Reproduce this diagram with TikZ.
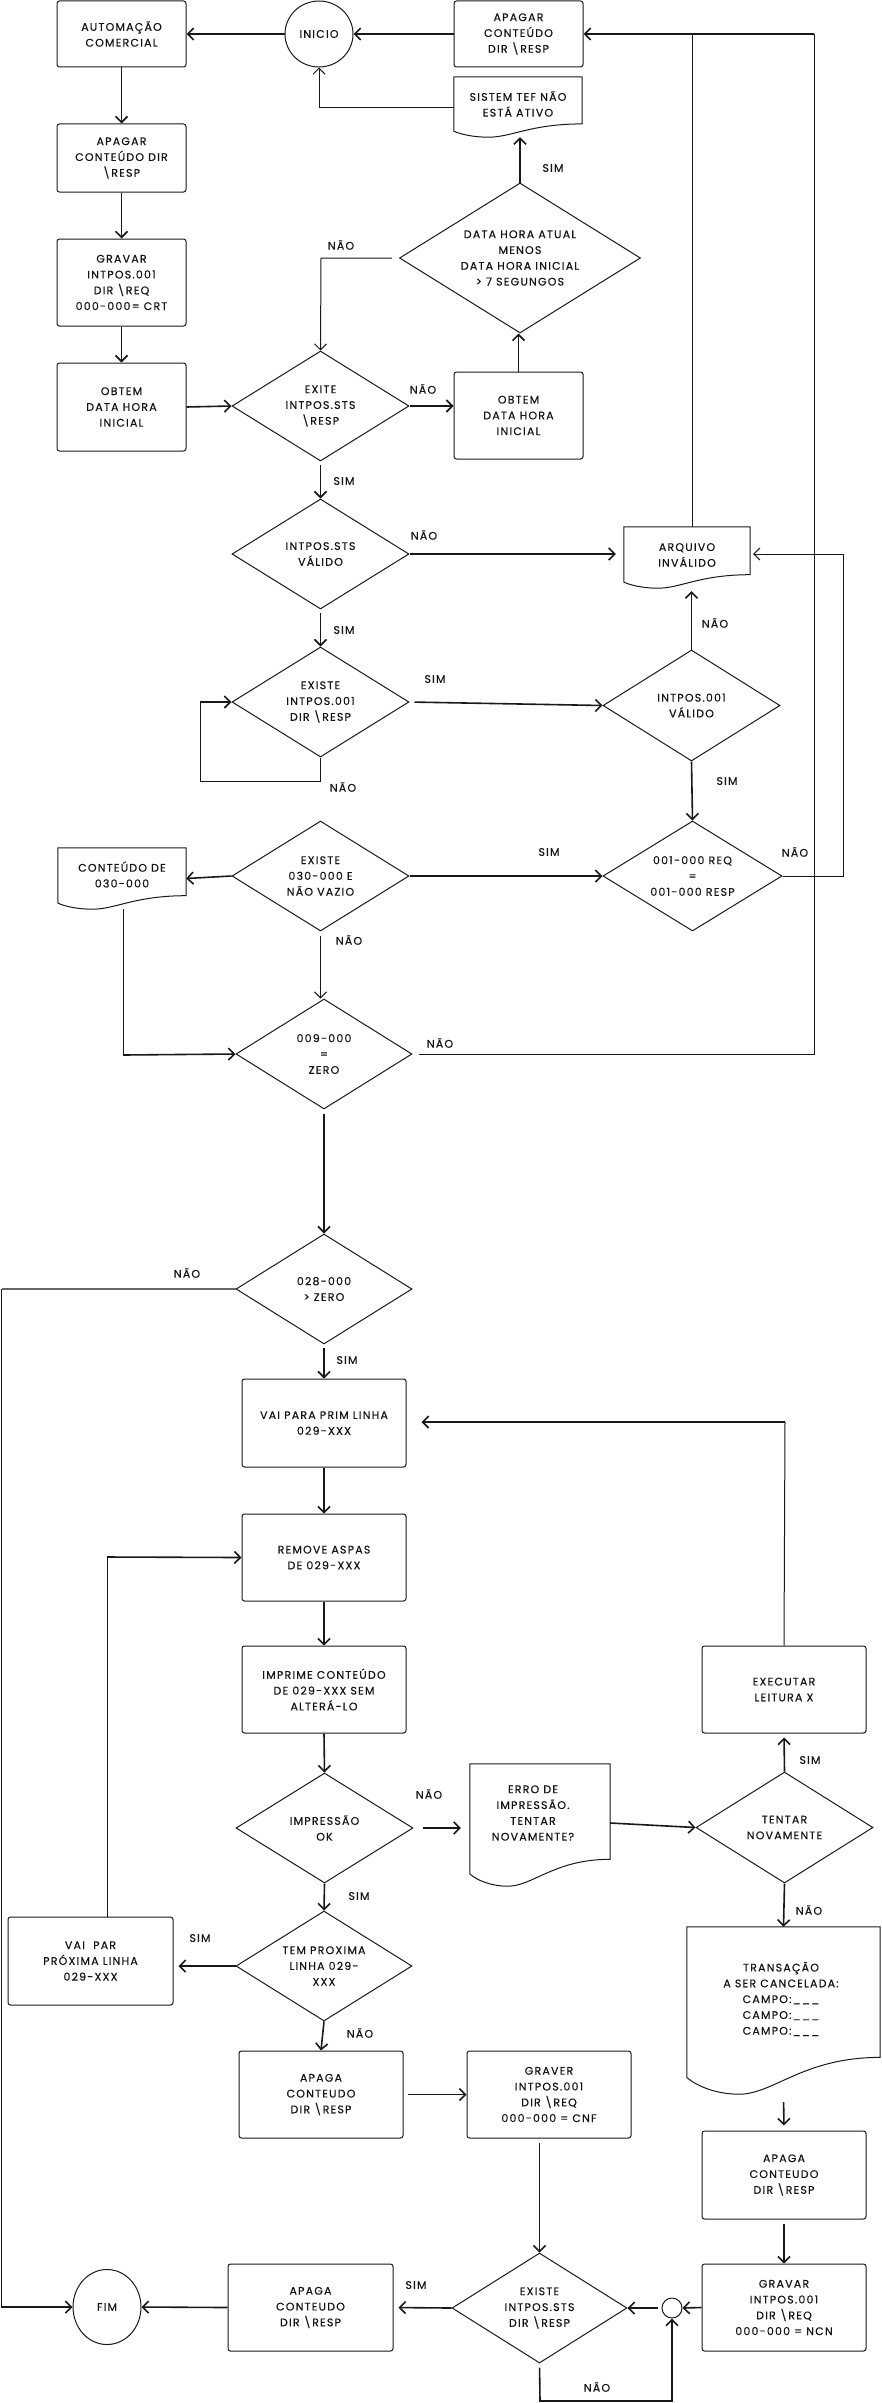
\documentclass[tikz,border=0pt]{standalone}
\usepackage{fontspec}
\setmainfont{Poppins}[LetterSpace=11, FakeBold=0.4]
\usetikzlibrary{shapes.geometric,arrows.meta,calc}
\newcommand\dfont{\fontsize{11pt}{15.8pt}\selectfont}
\tikzset{
  shp/.style={draw=black!90, line width=1pt},
  box/.style={shp, rounded corners=2.5pt, inner sep=0pt, align=center},
  dia/.style={shp, diamond, aspect=1.6, inner sep=0pt, align=center},
  term/.style={shp, ellipse, inner sep=0pt, align=center},
  docn/.style={inner sep=0pt},
  txt/.style={inner sep=0pt, align=center},
  lbl/.style={inner sep=0pt},
  arr/.style={line width=1.6pt, draw=black!90, -{Straight Barb[length=6pt,width=12pt]}},
  arrt/.style={line width=1pt, draw=black!90, -{Straight Barb[length=6pt,width=12pt]}},
  ln/.style={line width=1pt, draw=black!90},
  lnk/.style={line width=1.6pt, draw=black!90},
}
\newcommand\docdraw[1]{%
  \draw[shp] let \p1=(#1.north west), \p2=(#1.south east), \n1={\x2-\x1}, \n2={\y1-\y2} in
    (\x1,\y1) -- (\x2,\y1) -- (\x2,{\y1-0.78*\n2})
    .. controls ({\x1+0.6*\n1},{\y1-0.78*\n2}) and ({\x1+0.45*\n1},\y2) .. ({\x1+0.27*\n1},\y2)
    .. controls ({\x1+0.15*\n1},\y2) and ({\x1+0.05*\n1},{\y1-0.95*\n2}) .. (\x1,{\y1-0.9*\n2}) -- cycle;}
\begin{document}
\begin{tikzpicture}[x=1pt,y=-1pt,font=\dfont,text=black!92]
\useasboundingbox (0,0) rectangle (882,2403);

% ---------- nodes ----------
\node[term, minimum width=68pt, minimum height=66pt] (inicio) at (319,34) {INICIO};
\node[box, minimum width=129pt, minimum height=66pt] (automacao) at (121.5,34) {AUTOMAÇÃO\\COMERCIAL};
\node[box, minimum width=129pt, minimum height=66pt] (apagarTop) at (518.5,34) {APAGAR\\CONTEÚDO\\DIR \textbackslash RESP};
\node[docn, minimum width=128pt, minimum height=60pt] (sistem) at (518,107) {};
\docdraw{sistem}
\node[txt] (sistemT) at (518,104) {SISTEM TEF NÃO\\ESTÁ ATIVO};
\node[dia, minimum width=241pt, minimum height=150pt] (datahora) at (520,258) {DATA HORA ATUAL\\MENOS\\DATA HORA INICIAL\\> 7 SEGUNGOS};
\node[box, minimum width=129pt, minimum height=68pt] (apagarLeft) at (121.5,158) {APAGAR\\CONTEÚDO DIR\\\textbackslash RESP};
\node[box, minimum width=129pt, minimum height=87pt] (gravar) at (121.5,282.5) {GRAVAR\\INTPOS.001\\DIR \textbackslash REQ\\000-000= CRT};
\node[box, minimum width=129pt, minimum height=88pt] (obtemL) at (121.5,407) {OBTEM\\DATA HORA\\INICIAL};
\node[dia, minimum width=177pt, minimum height=110pt] (exite) at (320.5,406) {EXITE\\INTPOS.STS\\\textbackslash RESP};
\node[box, minimum width=129pt, minimum height=87pt] (obtemR) at (518.5,415.5) {OBTEM\\DATA HORA\\INICIAL};
\node[dia, minimum width=177pt, minimum height=110pt] (stsval) at (320.5,554) {INTPOS.STS\\VÁLIDO};
\node[docn, minimum width=126pt, minimum height=61pt] (arquivo) at (687,557.5) {};
\docdraw{arquivo}
\node[txt] (arquivoT) at (687,555) {ARQUIVO\\INVÁLIDO};
\node[dia, minimum width=177pt, minimum height=110pt] (existe001) at (320.5,702) {EXISTE\\INTPOS.001\\DIR \textbackslash RESP};
\node[dia, minimum width=177pt, minimum height=111pt] (val001) at (691.5,705.5) {INTPOS.001\\VÁLIDO};
\node[dia, minimum width=179pt, minimum height=110pt] (req) at (692.5,876) {001-000 REQ\\=\\001-000 RESP};
\node[dia, minimum width=177pt, minimum height=110pt] (ex030) at (320.5,876) {EXISTE\\030-000 E\\NÃO VAZIO};
\node[docn, minimum width=128pt, minimum height=61pt] (conteudo) at (122,878.5) {};
\docdraw{conteudo}
\node[txt] (conteudoT) at (122,874.5) {CONTEÚDO DE\\030-000};
\node[dia, minimum width=176pt, minimum height=110pt] (z009) at (324,1054) {009-000\\=\\ZERO};
\node[dia, minimum width=176pt, minimum height=110pt] (z028) at (324,1289) {028-000\\> ZERO};
\node[box, minimum width=164pt, minimum height=88pt] (vaiprim) at (324,1423) {VAI PARA PRIM LINHA\\029-XXX};
\node[box, minimum width=164pt, minimum height=87pt] (remove) at (324,1557.5) {REMOVE ASPAS\\DE 029-XXX};
\node[box, minimum width=164pt, minimum height=87pt] (imprime) at (324,1689.5) {IMPRIME CONTEÚDO\\DE 029-XXX SEM\\ALTERÁ-LO};
\node[dia, minimum width=177pt, minimum height=110pt] (impr) at (324.5,1828) {IMPRESSÃO\\OK};
\node[docn, minimum width=140pt, minimum height=122pt] (erro) at (540,1825) {};
\docdraw{erro}
\node[txt] (erroT) at (533,1813) {ERRO DE\\IMPRESSÃO.\\TENTAR\\NOVAMENTE?};
\node[dia, minimum width=177pt, minimum height=111pt] (tentar) at (784.5,1827.5) {TENTAR\\NOVAMENTE};
\node[box, minimum width=164pt, minimum height=87pt] (exec) at (784,1689.5) {EXECUTAR\\LEITURA X};
\node[dia, minimum width=176pt, minimum height=110pt] (temprox) at (324,1966) {TEM PROXIMA\\LINHA 029-\\XXX};
\node[box, minimum width=165pt, minimum height=88pt] (vaipar) at (90.5,1961) {VAI\ \ PAR\\PRÓXIMA LINHA\\029-XXX};
\node[docn, minimum width=193pt, minimum height=167pt] (transacao) at (783.5,2010.5) {};
\docdraw{transacao}
\node[txt] (transacaoT) at (781,1999) {TRANSAÇÃO\\A SER CANCELADA:\\CAMPO:\_\_\_\\CAMPO:\_\_\_\\CAMPO:\_\_\_};
\node[box, minimum width=164pt, minimum height=87pt] (apagaMid) at (321,2094.5) {APAGA\\CONTEUDO\\DIR \textbackslash RESP};
\node[box, minimum width=164pt, minimum height=87pt] (graver) at (549,2094.5) {GRAVER\\INTPOS.001\\DIR \textbackslash REQ\\000-000 = CNF};
\node[box, minimum width=164pt, minimum height=88pt] (apagaR) at (784,2175) {APAGA\\CONTEUDO\\DIR \textbackslash RESP};
\node[box, minimum width=164pt, minimum height=87pt] (gravarN) at (784,2307.5) {GRAVAR\\INTPOS.001\\DIR \textbackslash REQ\\000-000 = NCN};
\node[dia, minimum width=175pt, minimum height=110pt] (exsts) at (539.5,2308) {EXISTE\\INTPOS.STS\\DIR \textbackslash RESP};
\node[shp, circle, minimum size=20pt, inner sep=0pt] (conn) at (672,2308) {};
\node[box, minimum width=165pt, minimum height=87pt] (apagaB) at (310.5,2307.5) {APAGA\\CONTEUDO\\DIR \textbackslash RESP};
\node[term, minimum width=68pt, minimum height=75pt] (fim) at (107,2307) {FIM};

% ---------- labels ----------
\node[lbl] (l1) at (553,168) {SIM};
\node[lbl] (l2) at (341,245) {NÃO};
\node[lbl] (l3) at (423,389) {NÃO};
\node[lbl] (l4) at (344,481) {SIM};
\node[lbl] (l5) at (424,535) {NÃO};
\node[lbl] (l6) at (344,630) {SIM};
\node[lbl] (l7) at (435,679) {SIM};
\node[lbl] (l8) at (343,787) {NÃO};
\node[lbl] (l9) at (715,623) {NÃO};
\node[lbl] (l10) at (727,781) {SIM};
\node[lbl] (l11) at (549,852) {SIM};
\node[lbl] (l12) at (795,852) {NÃO};
\node[lbl] (l13) at (349,940) {NÃO};
\node[lbl] (l14) at (440,1043) {NÃO};
\node[lbl] (l15) at (187,1273) {NÃO};
\node[lbl] (l16) at (347,1360) {SIM};
\node[lbl] (l17) at (429,1794) {NÃO};
\node[lbl] (l18) at (810,1760) {SIM};
\node[lbl] (l19) at (359,1896) {SIM};
\node[lbl] (l20) at (200,1938) {SIM};
\node[lbl] (l21) at (809,1910) {NÃO};
\node[lbl] (l22) at (360,2033) {NÃO};
\node[lbl] (l23) at (416,2285) {SIM};
\node[lbl] (l24) at (597,2387) {NÃO};

% ---------- coordinates ----------
\coordinate (tr) at (814,34);
\coordinate (tm) at (692,34);
\coordinate (loopA) at (320.5,781);
\coordinate (loopB) at (200,781);
\coordinate (loopC) at (200,702);
\coordinate (rr) at (843,876);
\coordinate (rt) at (843,554);
\coordinate (dl) at (321,258);
\coordinate (sl) at (319,108);
\coordinate (cb) at (123,1055);
\coordinate (zr) at (814,1054);
\coordinate (lf1) at (1.5,1289);
\coordinate (lf2) at (1.5,2307);
\coordinate (ex1) at (785,1422);
\coordinate (vp1) at (107,1557);
\coordinate (bt1) at (540,2401);
\coordinate (bt2) at (672,2401);

% ---------- connectors ----------
\draw[arr] (inicio.west) -- (automacao.east);
\draw[arr] (apagarTop.west) -- (inicio.east);
\draw[arr] (tr) -- (apagarTop.east);
\draw[ln] (tm |- arquivo.north) -- (tm);
\draw[arr] (automacao.south) -- (apagarLeft.north);
\draw[arr] (apagarLeft.south) -- (gravar.north);
\draw[arr] (gravar.south) -- (obtemL.north);
\draw[arr] (obtemL.east) -- (exite.west);
\draw[arr] (exite.east) -- (exite.east -| obtemR.west);
\draw[arr] (obtemR.north) -- (obtemR.north |- datahora.south);
\draw[arr] (datahora.north) -- (datahora.north |- sistem.south);
\draw[arrt] (sistem.west |- sl) -- (sl) -- (inicio.south);
\draw[arrt, shorten <=7pt] (datahora.west) -- (dl) -- (exite.north);
\draw[arr, shorten <=3pt] (exite.south) -- (stsval.north);
\draw[arr, shorten >=8pt] (stsval.east) -- (stsval.east -| arquivo.west);
\draw[arr, shorten <=3pt] (stsval.south) -- (existe001.north);
\draw[ln] (existe001.south) -- (loopA) -- (loopB) -- (loopC);
\draw[arr] (loopC) -- (existe001.west);
\draw[arr, shorten <=5pt] (existe001.east) -- (val001.west);
\draw[arr, shorten >=3pt] (val001.north) -- (val001.north |- arquivo.south);
\draw[arr] (val001.south) -- (req.north);
\draw[arrt, shorten >=3pt] (req.east) -- (rr) -- (rt) -- (rt -| arquivo.east);
\draw[arr] (ex030.east) -- (req.west);
\draw[arr] (ex030.west) -- (conteudo.east);
\draw[arrt, shorten <=4pt] (ex030.south) -- (ex030.south |- z009.north);
\draw[ln] (conteudo.south -| cb) -- (cb);
\draw[arr] (cb) -- (z009.west);
\draw[ln, shorten <=6pt] (z009.east) -- (zr) -- (tr);
\draw[arr, shorten <=4pt] (z009.south) -- (z028.north);
\draw[lnk, draw=black!60] (z028.west) -- (lf1);
\draw[arr] (lf1) -- (lf2) -- (fim.west);
\draw[arr, shorten <=3pt] (z028.south) -- (vaiprim.north);
\draw[arr] (vaiprim.south) -- (remove.north);
\draw[arr] (remove.south) -- (imprime.north);
\draw[arr] (imprime.south) -- (impr.north);
\draw[arr, shorten <=9pt, shorten >=9pt] (impr.east) -- (impr.east -| erro.west);
\draw[arr] (erro.east |- 0,1823) -- (tentar.west);
\draw[arr, shorten >=4pt] (tentar.north) -- (exec.south);
\draw[ln] (exec.north) -- (ex1);
\draw[arr, shorten >=15pt] (ex1) -- (ex1 -| vaiprim.east);
\draw[arr] (tentar.south) -- (transacao.north);
\draw[arr] (impr.south) -- (temprox.north);
\draw[arr, shorten >=5pt] (temprox.west) -- (temprox.west -| vaipar.east);
\draw[ln] (vaipar.north -| vp1) -- (vp1);
\draw[arr] (vp1) -- (remove.west);
\draw[arr] (temprox.south) -- (apagaMid.north);
\draw[arr, shorten <=4pt] (apagaMid.east) -- (graver.west);
\draw[arr, shorten <=4pt] (graver.south -| exsts.north) -- (exsts.north);
\draw[arr, shorten <=8pt, shorten >=5pt] (transacao.south) -- (apagaR.north);
\draw[arr, shorten <=4pt] (apagaR.south) -- (gravarN.north);
\draw[arr] (gravarN.west) -- (conn.east);
\draw[arr, shorten <=4pt] (conn.west) -- (exsts.east);
\draw[arr, shorten <=4pt] (exsts.south) -- (bt1) -- (bt2) -- (conn.south);
\draw[arr, shorten >=5pt] (exsts.west) -- (apagaB.east);
\draw[arr] (apagaB.west) -- (fim.east);
\end{tikzpicture}
\end{document}
